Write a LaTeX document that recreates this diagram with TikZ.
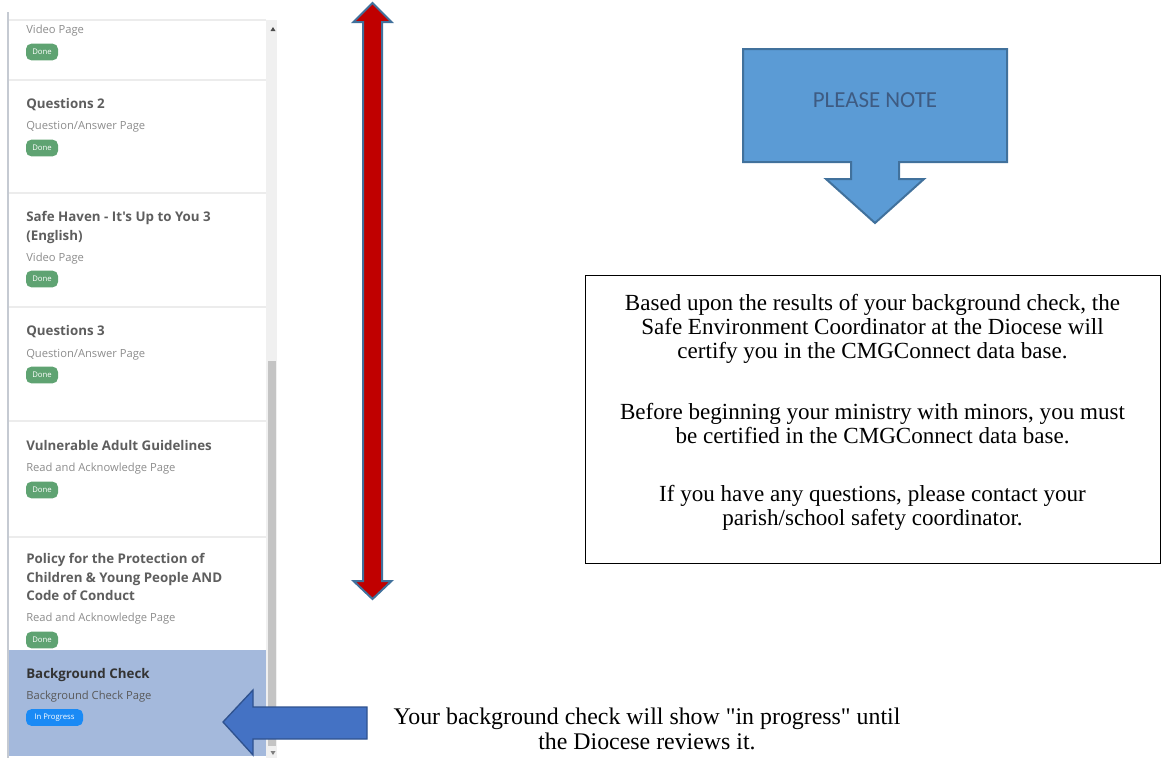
\documentclass[tikz,border=0pt]{standalone}
\usepackage{fontspec}
\setmainfont[Ligatures=TeXOff]{Liberation Serif}
\newfontfamily\uifont{Open Sans}
\newfontfamily\notefont{Carlito}
\usetikzlibrary{positioning}

\definecolor{titlegray}{HTML}{5E5E5E}
\definecolor{subgray}{HTML}{8C8C8C}
\definecolor{donegreen}{HTML}{5FA372}
\definecolor{progblue}{HTML}{1A8AF5}
\definecolor{paneblue}{HTML}{A4B9DC}
\definecolor{sepgray}{HTML}{ECECEC}
\definecolor{bordergray}{HTML}{C5CAD2}
\definecolor{trackgray}{HTML}{F0F0F0}
\definecolor{thumbgray}{HTML}{C4C4C4}
\definecolor{arrowred}{HTML}{C00000}
\definecolor{arrowedge}{HTML}{41719C}
\definecolor{noteblue}{HTML}{5B9BD5}
\definecolor{notetext}{HTML}{3E5B82}
\definecolor{leftblue}{HTML}{4472C4}
\definecolor{leftedge}{HTML}{2F528F}

\begin{document}
\begin{tikzpicture}[x=0.75pt,y=-0.75pt,
		title node/.style={anchor=base west,inner sep=0pt,text=titlegray,
			font=\uifont\bfseries\fontsize{10}{12}\selectfont},
		sub node/.style={anchor=base west,inner sep=0pt,text=subgray,
			font=\uifont\fontsize{8.4}{10}\selectfont},
		badge node/.style={rounded corners=4pt,text=white,inner sep=0pt,
			minimum height=12.5pt,font=\uifont\fontsize{5.8}{7}\selectfont},
		done node/.style={badge node,fill=donegreen,minimum width=24pt},
		block/.style={line width=1.5pt,line join=miter},
		body text/.style={align=center,inner sep=0pt,
			font=\fontsize{17.3}{18}\selectfont}]
	
	\useasboundingbox (0,0) rectangle (1161,758);
	
	\fill[trackgray] (266,20) rectangle (277,758);
	\fill[thumbgray] (268,361) rectangle (276,746);
	\fill[black!70] (270.5,31) -- (275.5,31) -- (273,27) -- cycle;
	\fill[black!50] (270.5,751) -- (275.5,751) -- (273,755) -- cycle;
	\draw[sepgray,line width=1pt] (9,20) -- (266,20);
	\draw[sepgray,line width=1.5pt] (9,80) -- (266,80) (9,193) -- (266,193)
		(9,307) -- (266,307) (9,421) -- (266,421) (9,537) -- (266,537);
	\fill[paneblue] (9,650) rectangle (266,756);
	\draw[bordergray,line width=1.5pt] (8,12) -- (8,758);
	
	\node[sub node] (vid0) at (26,33) {Video Page};
	\node[done node] (done0) at (42,52) {Done};
	
	\node[title node] (q2) at (26,108) {Questions 2};
	\node[sub node] (q2sub) at (26,129) {Question/Answer Page};
	\node[done node] (done1) at (42,148) {Done};
	
	\node[title node] (haven) at (26,221) {Safe Haven - It's Up to You 3};
	\node[title node] (haven2) at (26,240) {(English)};
	\node[sub node] (havensub) at (26,261) {Video Page};
	\node[done node] (done2) at (42,279) {Done};
	
	\node[title node] (q3) at (26,335) {Questions 3};
	\node[sub node] (q3sub) at (26,357) {Question/Answer Page};
	\node[done node] (done3) at (42,375) {Done};
	
	\node[title node] (vag) at (26,450) {Vulnerable Adult Guidelines};
	\node[sub node] (vagsub) at (26,471) {Read and Acknowledge Page};
	\node[done node] (done4) at (42,490) {Done};
	
	\node[title node] (policy) at (26,563) {Policy for the Protection of};
	\node[title node] (policy2) at (26,582) {Children \& Young People AND};
	\node[title node] (policy3) at (26,600) {Code of Conduct};
	\node[sub node] (policysub) at (26,621) {Read and Acknowledge Page};
	\node[done node] (done5) at (42,640) {Done};
	
	\node[title node,text=black!80] (bgc) at (26,678) {Background Check};
	\node[sub node,text=black!65] (bgcsub) at (26,699) {Background Check Page};
	\node[badge node,fill=progblue,minimum width=42.75pt] (inprog) at (54.5,717.5) {In Progress};
	
	\filldraw[block,fill=arrowred,draw=arrowedge] (372.5,3) -- (391.5,22) -- (382,22)
		-- (382,581) -- (391.5,581) -- (372.5,599) -- (353.5,581) -- (363,581)
		-- (363,22) -- (353.5,22) -- cycle;
	
	\filldraw[block,fill=noteblue,draw=arrowedge] (743,49) -- (1007,49) -- (1007,162)
		-- (899,162) -- (899,179) -- (924,179) -- (875,223) -- (826,179) -- (851,179)
		-- (851,162) -- (743,162) -- cycle;
	\node[font=\notefont\fontsize{17.2}{20}\selectfont,text=notetext] (pleasenote) at (875,100) {PLEASE NOTE};
	
	\node[draw,line width=0.75pt,minimum width=431.25pt,minimum height=216pt] (notebox) at (872.5,419) {};
	\node[body text] (notetext) at (872.5,412) {Based upon the results of your background check, the\\
		Safe Environment Coordinator at the Diocese will\\
		certify you in the CMGConnect data base.\\[27.75pt]
		Before beginning your ministry with minors, you must\\
		be certified in the CMGConnect data base.\\[25.5pt]
		If you have any questions, please contact your\\
		parish/school safety coordinator.};
	
	\filldraw[line width=1pt,fill=leftblue,draw=leftedge] (223,722) -- (253,690) -- (253,707)
		-- (367,707) -- (367,739) -- (253,739) -- (253,755) -- cycle;
	\node[body text,font=\fontsize{17.9}{18.75}\selectfont] (progressnote) at (647,729)
		{Your background check will show "in progress" until\\the Diocese reviews it.};
\end{tikzpicture}
\end{document}
